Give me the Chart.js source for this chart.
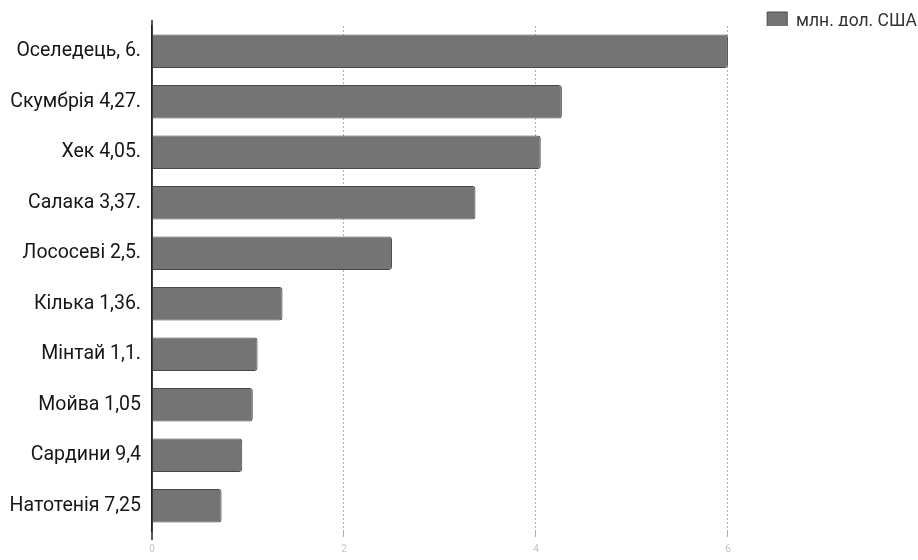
<!DOCTYPE html>
<html><head><meta charset="utf-8">
<script src="https://cdn.jsdelivr.net/npm/chart.js@4"></script>
<style>html,body{margin:0;padding:0;background:#fff}#wrap{width:918px;height:560px;position:relative}</style>
</head><body><div id="wrap"><canvas id="c"></canvas></div>
<script>
const categories = ['Оселедець, 6.', 'Скумбрія 4,27.', 'Хек 4,05.', 'Салака 3,37.', 'Лососеві 2,5.', 'Кілька 1,36.', 'Мінтай 1,1.', 'Мойва 1,05', 'Сардини 9,4', 'Натотенія 7,25'];
const values = [6, 4.27, 4.05, 3.37, 2.5, 1.36, 1.1, 1.05, 0.94, 0.725];
const seriesName = 'млн. дол. США';
const xTickValues = [0, 2, 4, 6];

const legendFitPatch = {
  id: 'legendFitPatch',
  beforeUpdate(chart) {
    const lg = chart.legend;
    if (lg && !lg._patched) {
      const f = lg.fit;
      lg.fit = function () { f.call(this); this.height = 15; };
      lg._patched = true;
    }
  }
};
const axisExtend = {
  id: 'axisExtend',
  afterDraw(chart) {
    const {ctx, chartArea} = chart;
    ctx.save();
    ctx.strokeStyle = '#222';
    ctx.lineWidth = 1.5;
    ctx.beginPath();
    ctx.moveTo(chartArea.left, chartArea.top - 6);
    ctx.lineTo(chartArea.left, chartArea.bottom + 9);
    ctx.stroke();
    ctx.restore();
  }
};

new Chart(document.getElementById('c'), {
  type: 'bar',
  data: {
    labels: categories,
    datasets: [{
      label: seriesName,
      data: values,
      backgroundColor: '#747474',
      borderColor: '#484848',
      borderWidth: 1,
      borderRadius: 3,
      barPercentage: 0.66,
      categoryPercentage: 1
    }]
  },
  options: {
    indexAxis: 'y',
    responsive: true,
    maintainAspectRatio: false,
    animation: false,
    layout: { padding: { top: 11, right: 0, bottom: 0, left: 0 } },
    plugins: {
      tooltip: { enabled: false },
      legend: {
        position: 'top',
        align: 'end',
        labels: {
          boxWidth: 20, boxHeight: 19, padding: 1,
          color: '#333',
          font: { family: 'Roboto', size: 17.5 }
        }
      }
    },
    scales: {
      x: {
        type: 'linear',
        min: 0, max: 7.98,
        afterBuildTicks(scale) {
          scale.ticks = scale.ticks.filter(t => xTickValues.includes(t.value));
        },
        afterFit(scale) { scale.height = 29; },
        ticks: {
          stepSize: 2,
          padding: 6,
          color: '#c4c4c4',
          font: { family: 'Roboto', size: 10 },
          callback: v => String(v)
        },
        grid: {
          color: c => (c.tick && c.tick.value === 0) ? 'rgba(0,0,0,0)' : '#b0b0b0',
          lineWidth: 1,
          tickLength: 6
        },
        border: { display: false, dash: [2, 2] }
      },
      y: {
        afterFit(scale) { scale.width = 152; },
        grid: { display: false, drawTicks: false },
        border: { display: true, color: '#222', width: 1.5 },
        ticks: {
          padding: 11,
          color: '#161616',
          font: { family: 'Roboto', size: 19.5 }
        }
      }
    }
  },
  plugins: [legendFitPatch, axisExtend]
});
</script>
</body></html>
